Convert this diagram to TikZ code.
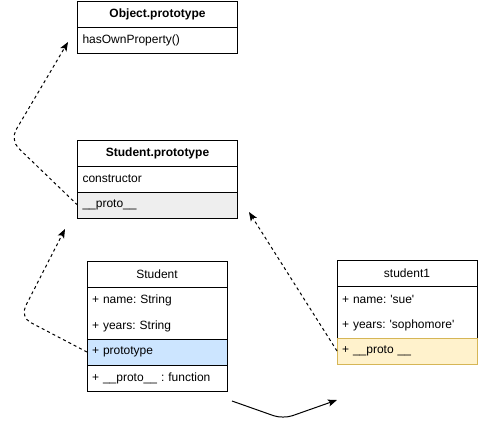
\documentclass[tikz,border=0pt]{standalone}
\usepackage{fontspec}
\setmainfont{Liberation Sans}
\usetikzlibrary{positioning,arrows.meta}
\definecolor{protogray}{HTML}{EEEEEE}
\definecolor{protoblue}{HTML}{CCE5FF}
\definecolor{protoyellow}{HTML}{FFF2CC}
\definecolor{protoedge}{HTML}{D6B656}
\frenchspacing
\begin{document}
\begin{tikzpicture}[x=1pt,y=-1pt,line width=1pt,
	font=\fontsize{12}{14}\selectfont,
	rw/.style={inner xsep=5pt,inner ysep=0pt,outer sep=0pt,minimum height=26pt,align=left},
	hd/.style={rw,draw,align=center},
	wide/.style={text width=150pt},
	narrow/.style={text width=130pt},
	dsh/.style={dash pattern=on 3pt off 3pt,-{Stealth[length=9pt,width=7pt,inset=2pt]}},
	arr/.style={-{Stealth[length=9pt,width=7pt,inset=2pt]}}]
				\useasboundingbox(0,0)rectangle(478,429);
				% Object.prototype
				\node[hd,wide,anchor=north west](oph)at(77.5,1){\textbf{Object.prototype}};
				\node[rw,wide,draw,below=0pt of oph](op1){hasOwnProperty()};
				% Student.prototype
				\node[hd,wide,anchor=north west](sph)at(77.5,140){\textbf{Student.prototype}};
				\node[rw,wide,draw,below=0pt of sph](sp1){constructor};
				\node[rw,wide,draw,fill=protogray,below=0pt of sp1](sp2){\_\_proto\_\_};
				% Student
				\node[hd,narrow,anchor=north west](sth)at(87,261){Student};
				\node[rw,narrow,below=0pt of sth](st1){+ name: String};
				\node[rw,narrow,below=0pt of st1](st2){+ years: String};
				\draw(st1.north west)rectangle(st2.south east);
				\node[rw,narrow,draw,fill=protoblue,below=0pt of st2](st3){+ prototype};
				\node[rw,narrow,draw,below=0pt of st3](st4){+ \_\_proto\_\_ : function};
				% student1
				\node[hd,narrow,anchor=north west](s1h)at(337,260){student1};
				\node[rw,narrow,below=0pt of s1h](s11){+ name: \textquotesingle sue\textquotesingle};
				\node[rw,narrow,below=0pt of s11](s12){+ years: \textquotesingle sophomore\textquotesingle};
				\draw(s11.north west)rectangle(s12.south east);
				\node[rw,narrow,draw=protoedge,fill=protoyellow,below=0pt of s12](s13){+ \_\_proto \_\_};
				% arrows
				\coordinate(optip)at(68,42);
				\coordinate(sptip)at(65,229);
				\coordinate(sp1tip)at(249,212);
				\coordinate(mvstart)at(232,401);
				\coordinate(mvtip)at(337,400);
				\draw[dsh,rounded corners=12pt](sp2.west)--(10,140)--(optip);
				\draw[dsh,rounded corners=12pt](st3.west)--(20,317)--(sptip);
				\draw[dsh](s13.west)--(sp1tip);
				\draw[arr,rounded corners=10pt](mvstart)--(283,419)--(mvtip);
			\end{tikzpicture}
\end{document}
